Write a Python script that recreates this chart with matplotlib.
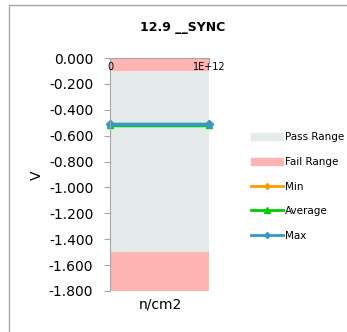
import matplotlib.pyplot as plt
from matplotlib.patches import Rectangle, Patch
from matplotlib.lines import Line2D

fluence = [0, 1e12]
v_min = [-0.510, -0.510]
v_avg = [-0.515, -0.515]
v_max = [-0.508, -0.508]
pass_hi, pass_lo = -0.1, -1.5
ymin, ymax = -1.8, 0.0

W, H = 347, 332
fig = plt.figure(figsize=(W / 100, H / 100), dpi=100)
fig.patches.append(Rectangle((9 / W, -0.01), 1.0, 1 - 5 / H + 0.01, transform=fig.transFigure,
                             fill=False, edgecolor='#a6a6a6', linewidth=1))

ax = fig.add_axes([110 / W, 1 - 291 / H, 99 / W, 233 / H])

pass_c = '#e5eaea'
fail_c = '#ffb3b3'
ax.fill_between(fluence, pass_hi, ymax, color=fail_c, linewidth=0)
ax.fill_between(fluence, pass_lo, pass_hi, color=pass_c, linewidth=0)
ax.fill_between(fluence, ymin, pass_lo, color=fail_c, linewidth=0)

ax.plot(fluence, v_min, color='#ff9900', marker='D', ms=4, lw=2.5, clip_on=False)
ax.plot(fluence, v_avg, color='#00cc00', marker='^', ms=5, lw=2.5, clip_on=False)
ax.plot(fluence, v_max, color='#3399cc', marker='D', ms=4, lw=2.5, clip_on=False)

ax.set_xlim(0, 1e12)
ax.set_ylim(ymin, ymax)
ax.set_yticks([0, -0.2, -0.4, -0.6, -0.8, -1.0, -1.2, -1.4, -1.6, -1.8])
ax.set_yticklabels(['%.3f' % v for v in ax.get_yticks()], fontsize=10)
ax.tick_params(axis='y', direction='out', length=4, color='#a6a6a6', pad=8)

for s in ['right', 'bottom']:
    ax.spines[s].set_visible(False)
ax.spines['left'].set_color('#a6a6a6')
ax.spines['top'].set_color('#a6a6a6')
ax.xaxis.tick_top()
ax.set_xticks(fluence)
ax.tick_params(axis='x', direction='in', length=4, color='#a6a6a6', labeltop=False, labelbottom=False)
ax.text(0, -0.03, '0', fontsize=7, ha='center', va='top')
ax.text(1e12, -0.03, '1E+12', fontsize=7, ha='center', va='top')

fig.text(183 / W, 1 - 28 / H, '12.9 __SYNC', fontsize=9, fontweight='bold', ha='center', va='center')
fig.text(160 / W, 1 - 305 / H, 'n/cm2', fontsize=10, ha='center', va='center')
fig.text(37 / W, 1 - 175 / H, 'V', fontsize=10, rotation=90, ha='center', va='center')

handles = [Patch(color=pass_c), Patch(color=fail_c),
           Line2D([], [], color='#ff9900', marker='D', ms=3, lw=2),
           Line2D([], [], color='#00cc00', marker='^', ms=4, lw=2),
           Line2D([], [], color='#3399cc', marker='D', ms=3, lw=2)]
fig.legend(handles, ['Pass Range', 'Fail Range', 'Min', 'Average', 'Max'],
           loc='upper left', bbox_to_anchor=(242 / W, 1 - 123 / H), frameon=False,
           fontsize=7.5, handlelength=3.0, handletextpad=0.2, labelspacing=1.4)

fig.savefig('out.png', dpi=100)
